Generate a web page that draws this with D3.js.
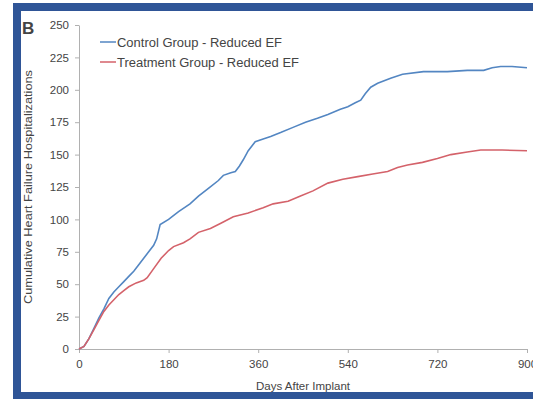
<!DOCTYPE html>
<html lang="en">
<head>
  <meta charset="UTF-8">
  <script src="https://d3js.org/d3.v7.min.js"></script>
  <style>
    body { margin: 0; background: #fff; }
    text { font-family: "Liberation Sans", Arial, sans-serif; fill: #444; }
    .axis path, .axis line { stroke: #b0b0b0; }
  </style>
</head>
<body>
<script>
// days after implant / cumulative hospitalizations
const controlDays = [0, 10, 20, 30, 40, 50, 60, 70, 80, 90, 100, 110, 120, 130, 140, 150, 156, 163, 180, 200, 223, 240, 260, 280, 290, 305, 314, 322, 330, 340, 354, 370, 385, 405, 430, 455, 479, 500, 525, 540, 555, 566, 575, 586, 600, 626, 650, 692, 740, 780, 813, 830, 847, 870, 900];
const controlVals = [0, 2, 8, 16, 24, 31, 39, 44, 48, 52, 56, 60, 65, 70, 75, 80, 85, 96, 100, 106, 112, 118, 124, 130, 134, 136, 137, 141, 146, 153, 160, 162, 164, 167, 171, 175, 178, 181, 185, 187, 190, 192, 197, 202, 205, 209, 212, 214, 214, 215, 215, 217, 218, 218, 217];

const treatDays = [0, 10, 20, 30, 40, 50, 60, 70, 80, 90, 100, 115, 130, 137, 150, 165, 180, 190, 210, 223, 240, 264, 285, 310, 340, 370, 390, 420, 445, 470, 500, 530, 560, 590, 620, 640, 660, 690, 720, 747, 780, 807, 850, 900];
const treatVals = [0, 2, 8, 15, 22, 29, 34, 38, 42, 45, 48, 51, 53, 55, 62, 70, 76, 79, 82, 85, 90, 93, 97, 102, 105, 109, 112, 114, 118, 122, 128, 131, 133, 135, 137, 140, 142, 144, 147, 150, 152, 153.5, 153.5, 153];

const xTicks = [0, 180, 360, 540, 720, 900];
const yTicks = [0, 25, 50, 75, 100, 125, 150, 175, 200, 225, 250];
const seriesNames = ["Control Group - Reduced EF", "Treatment Group - Reduced EF"];
const seriesColors = ["#5386c2", "#d4626a"];

const W = 533, H = 399;
const svg = d3.select("body").append("svg").attr("width", W).attr("height", H);

// blue frame
svg.append("rect").attr("x", 0).attr("y", 0).attr("width", W).attr("height", H).attr("fill", "#fff");
svg.append("rect").attr("x", 13).attr("y", 3).attr("width", W).attr("height", 8).attr("fill", "#2f5597");
svg.append("rect").attr("x", 13).attr("y", 3).attr("width", 8).attr("height", H).attr("fill", "#2f5597");
svg.append("rect").attr("x", 13).attr("y", 392).attr("width", W).attr("height", 7).attr("fill", "#2f5597");

const x = d3.scaleLinear().domain([0, 900]).range([79, 527]);
const y = d3.scaleLinear().domain([0, 250]).range([349, 25]);

// y axis
const yAxis = svg.append("g").attr("class", "axis").attr("transform", "translate(79,0)")
  .call(d3.axisLeft(y).tickValues(yTicks).tickSize(4).tickPadding(6).tickSizeOuter(0));
yAxis.selectAll("text").style("font-size", "11.5px");

// x axis
const xAxis = svg.append("g").attr("class", "axis").attr("transform", "translate(0,349)")
  .call(d3.axisBottom(x).tickValues(xTicks).tickSize(4).tickPadding(7).tickSizeOuter(0));
xAxis.selectAll("text").style("font-size", "11.5px");
svg.selectAll(".axis text").attr("fill", "#555");

// lines
const line = d3.line().x(d => x(d[0])).y(d => y(d[1]));
const series = [d3.zip(controlDays, controlVals), d3.zip(treatDays, treatVals)];
series.forEach((s, i) => {
  svg.append("path").datum(s).attr("d", line)
    .attr("fill", "none").attr("stroke", seriesColors[i]).attr("stroke-width", 1.6);
});

// legend
seriesNames.forEach((name, i) => {
  const ly = 42 + i * 20;
  svg.append("line").attr("x1", 100).attr("x2", 116).attr("y1", ly).attr("y2", ly)
    .attr("stroke", seriesColors[i]).attr("stroke-width", 1.5);
  svg.append("text").attr("x", 117).attr("y", ly + 4.5)
    .style("font-size", "12px")
    .attr("textLength", i === 0 ? 165 : 182).attr("lengthAdjust", "spacingAndGlyphs")
    .text(name);
});

// titles
svg.append("text").attr("x", 303).attr("y", 390).attr("text-anchor", "middle")
  .style("font-size", "11.5px").text("Days After Implant");
svg.append("text").attr("transform", "translate(32,187) rotate(-90)").attr("text-anchor", "middle")
  .style("font-size", "11px").attr("textLength", 234).attr("lengthAdjust", "spacingAndGlyphs")
  .text("Cumulative Heart Failure Hospitalizations");
svg.append("text").attr("x", 22).attr("y", 33.5).style("font-size", "17px").style("font-weight", "bold")
  .attr("fill", "#222").text("B");
</script>
</body>
</html>
